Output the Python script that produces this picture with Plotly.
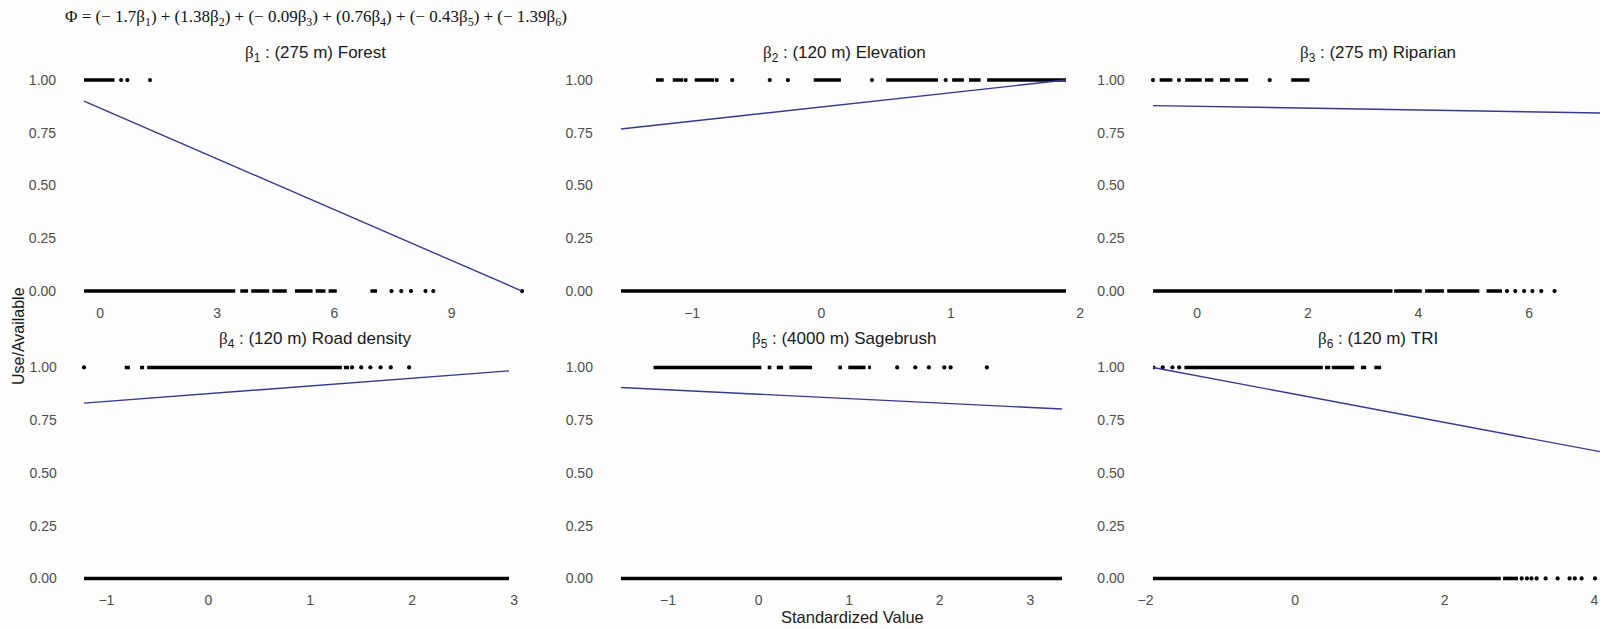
import plotly.graph_objects as go

FIG_W, FIG_H = 1600, 629

# ---------------------------------------------------------------------------
# Observations per covariate (standardized value), split by response:
# used (1) and available (0). Dense stretches of overlapping observations are
# stored as (start, end) runs, isolated observations as single values.
# Each fitted response line is stored by its two end points.
# ---------------------------------------------------------------------------

forest_used_runs = [(-0.41, 0.37)]
forest_used_pts = [0.54, 0.70, 1.28]
forest_avail_runs = [(-0.41, 3.46), (3.59, 3.79), (3.87, 4.33), (4.41, 4.78),
                     (4.99, 5.44), (5.52, 5.77), (5.85, 6.06), (6.92, 7.09)]
forest_avail_pts = [7.46, 7.71, 7.96, 8.33, 8.53, 10.80]
forest_fit_x = [-0.41, 10.80]
forest_fit_y = [0.90, 0.00]

elev_used_runs = [(-1.28, -1.22), (-1.15, -1.07), (-0.98, -0.83), (-0.06, 0.15),
                  (0.50, 0.90), (1.01, 1.10), (1.14, 1.23), (1.28, 1.89)]
elev_used_pts = [-1.05, -0.81, -0.69, -0.40, -0.26, 0.39, 0.96]
elev_avail_runs = [(-1.55, 1.89)]
elev_avail_pts = []
elev_fit_x = [-1.55, 1.89]
elev_fit_y = [0.768, 1.00]

ripar_used_runs = [(-0.68, -0.45), (-0.22, 0.08), (0.14, 0.29), (0.41, 0.59),
                   (0.68, 0.92), (1.70, 2.03)]
ripar_used_pts = [-0.80, -0.33, 1.31]
ripar_avail_runs = [(-0.80, 3.53), (3.56, 4.06), (4.12, 4.46), (4.52, 5.10),
                    (5.23, 5.51)]
ripar_avail_pts = [5.60, 5.75, 5.91, 6.06, 6.22, 6.46]
ripar_fit_x = [-0.80, 7.30]
ripar_fit_y = [0.879, 0.844]

road_used_runs = [(-0.82, -0.77), (-0.67, -0.63), (-0.60, 1.31), (1.33, 1.38)]
road_used_pts = [-1.22, 1.41, 1.50, 1.59, 1.69, 1.79, 1.97]
road_avail_runs = [(-1.22, 2.95)]
road_avail_pts = []
road_fit_x = [-1.22, 2.95]
road_fit_y = [0.831, 0.984]

sage_used_runs = [(-1.16, 0.03), (0.10, 0.14), (0.20, 0.27), (0.34, 0.59),
                  (0.88, 0.92), (0.99, 1.18), (1.21, 1.24)]
sage_used_pts = [1.53, 1.73, 1.88, 2.05, 2.12, 2.52]
sage_avail_runs = [(-1.52, 3.35)]
sage_avail_pts = []
sage_fit_x = [-1.52, 3.35]
sage_fit_y = [0.905, 0.803]

tri_used_runs = [(-1.90, -1.87), (-1.48, 0.37), (0.40, 0.47), (0.49, 0.79),
                 (0.88, 0.95), (1.06, 1.15)]
tri_used_pts = [-1.77, -1.64, -1.55]
tri_avail_runs = [(-1.90, 2.75), (2.78, 2.98)]
tri_avail_pts = [3.03, 3.10, 3.16, 3.23, 3.35, 3.51, 3.67, 3.74, 3.83, 4.01]
tri_fit_x = [-1.90, 4.09]
tri_fit_y = [1.00, 0.600]

panel_titles = [
    ("1", "(275 m) Forest"),
    ("2", "(120 m) Elevation"),
    ("3", "(275 m) Riparian"),
    ("4", "(120 m) Road density"),
    ("5", "(4000 m) Sagebrush"),
    ("6", "(120 m) TRI"),
]
x_tickvals = [
    [0, 3, 6, 9],
    [-1, 0, 1, 2],
    [0, 2, 4, 6],
    [-1, 0, 1, 2, 3],
    [-1, 0, 1, 2, 3],
    [-2, 0, 2, 4],
]
y_tickvals = [0, 0.25, 0.5, 0.75, 1.0]
y_ticktext = ["0.00", "0.25", "0.50", "0.75", "1.00"]

coefs = ["\u2212 1.7", "1.38", "\u2212 0.09", "0.76", "\u2212 0.43", "\u2212 1.39"]

panels = [
    (forest_used_runs, forest_used_pts, forest_avail_runs, forest_avail_pts, forest_fit_x, forest_fit_y),
    (elev_used_runs, elev_used_pts, elev_avail_runs, elev_avail_pts, elev_fit_x, elev_fit_y),
    (ripar_used_runs, ripar_used_pts, ripar_avail_runs, ripar_avail_pts, ripar_fit_x, ripar_fit_y),
    (road_used_runs, road_used_pts, road_avail_runs, road_avail_pts, road_fit_x, road_fit_y),
    (sage_used_runs, sage_used_pts, sage_avail_runs, sage_avail_pts, sage_fit_x, sage_fit_y),
    (tri_used_runs, tri_used_pts, tri_avail_runs, tri_avail_pts, tri_fit_x, tri_fit_y),
]

# ---------------------------------------------------------------------------
# Layout geometry (pixels): horizontal span occupied by the data in each
# panel, panel rows, title centres
# ---------------------------------------------------------------------------
PANEL_DATA_PX = [(84.0, 522.0), (621.0, 1066.0), (1153.0, 1601.0),
                 (84.0, 509.0), (621.0, 1062.0), (1153.0, 1601.0)]
TITLE_X = [315.0, 844.0, 1378.0]
ROW_TOP = [69.5, 356.9]
PANEL_H = 232.1
TITLE_Y = [54.0, 340.0]
EXPAND = 0.05

SANS = "Liberation Sans, Arial, sans-serif"
SERIF = "Liberation Serif, Times New Roman, serif"
TICK_COLOR = "#4d4d4d"
FIT_COLOR = "#38388f"
DOT_COLOR = "#000000"

fig = go.Figure()
layout_axes = {}
annotations = []


def runs_to_xy(runs, level):
    xs, ys = [], []
    for a, b in runs:
        xs += [a, b, None]
        ys += [level, level, None]
    return xs, ys


for i, (u_runs, u_pts, a_runs, a_pts, fx, fy) in enumerate(panels):
    row, col = divmod(i, 3)
    n = i + 1
    xa = "x" if n == 1 else f"x{n}"
    ya = "y" if n == 1 else f"y{n}"

    # observation runs and isolated points at 1 (used) and 0 (available)
    for runs, pts, level in ((u_runs, u_pts, 1.0), (a_runs, a_pts, 0.0)):
        rx, ry = runs_to_xy(runs, level)
        if rx:
            fig.add_trace(go.Scatter(
                x=rx, y=ry, mode="lines", xaxis=xa, yaxis=ya,
                line=dict(color=DOT_COLOR, width=3.6),
                showlegend=False, hoverinfo="skip"))
        if pts:
            fig.add_trace(go.Scatter(
                x=pts, y=[level] * len(pts), mode="markers", xaxis=xa, yaxis=ya,
                marker=dict(color=DOT_COLOR, size=4.2, line=dict(width=0)),
                showlegend=False, hoverinfo="skip"))

    # fitted response
    fig.add_trace(go.Scatter(
        x=fx, y=fy, mode="lines", xaxis=xa, yaxis=ya,
        line=dict(color=FIT_COLOR, width=1.4),
        showlegend=False, hoverinfo="skip"))

    # axis geometry: data extent maps onto the panel's data span, with 5 %
    # padding either side; the right column runs off the canvas edge
    lo_d, hi_d = fx[0], fx[1]
    p0, p1 = PANEL_DATA_PX[i]
    ppu = (p1 - p0) / (hi_d - lo_d)
    pad_px = EXPAND * (p1 - p0)
    left = p0 - pad_px
    right = min(p1 + pad_px, FIG_W)
    lo = lo_d - pad_px / ppu
    hi = lo + (right - left) / ppu

    top = ROW_TOP[row]
    bottom = top + PANEL_H

    key_x = "xaxis" if n == 1 else f"xaxis{n}"
    key_y = "yaxis" if n == 1 else f"yaxis{n}"
    layout_axes[key_x] = dict(
        domain=[left / FIG_W, right / FIG_W], range=[lo, hi],
        anchor=ya, showgrid=False, zeroline=False, showline=False,
        tickvals=x_tickvals[i], ticks="", ticklabelstandoff=1,
        tickfont=dict(family=SANS, size=14, color=TICK_COLOR),
    )
    layout_axes[key_y] = dict(
        domain=[1 - bottom / FIG_H, 1 - top / FIG_H], range=[-0.05, 1.05],
        anchor=xa, showgrid=False, zeroline=False, showline=False,
        tickvals=y_tickvals, ticktext=y_ticktext, ticks="", ticklabelstandoff=5,
        tickfont=dict(family=SANS, size=14, color=TICK_COLOR),
    )

    # panel title
    sub, label = panel_titles[i]
    annotations.append(dict(
        x=TITLE_X[col] / FIG_W, y=1 - TITLE_Y[row] / FIG_H,
        xref="paper", yref="paper", xanchor="center", yanchor="middle",
        showarrow=False,
        text=(f"<span style=\"font-family:{SERIF}\">\u03b2</span><sub>{sub}</sub> : "
              f"{label}"),
        font=dict(family=SANS, size=17, color="#1a1a1a"),
    ))

# model equation
terms = [f"({c}\u03b2<sub>{k + 1}</sub>)" for k, c in enumerate(coefs)]
annotations.append(dict(
    x=63 / FIG_W, y=1 - 18 / FIG_H, xref="paper", yref="paper",
    xanchor="left", yanchor="middle", showarrow=False,
    text="\u03a6 = " + " + ".join(terms),
    font=dict(family=SERIF, size=17, color="#111111"),
))

# shared axis titles
annotations.append(dict(
    x=18 / FIG_W, y=1 - 336 / FIG_H, xref="paper", yref="paper",
    xanchor="center", yanchor="middle", showarrow=False, textangle=-90,
    text="Use/Available", font=dict(family=SANS, size=16, color="#1a1a1a"),
))
annotations.append(dict(
    x=853 / FIG_W, y=0, xref="paper", yref="paper",
    xanchor="center", yanchor="bottom", yshift=1, showarrow=False,
    text="Standardized Value", font=dict(family=SANS, size=16.5, color="#1a1a1a"),
))

fig.update_layout(
    width=FIG_W, height=FIG_H,
    margin=dict(l=0, r=0, t=0, b=0),
    paper_bgcolor="#fdfdfd", plot_bgcolor="#fdfdfd",
    annotations=annotations,
    **layout_axes,
)

fig.write_html("out.html")
